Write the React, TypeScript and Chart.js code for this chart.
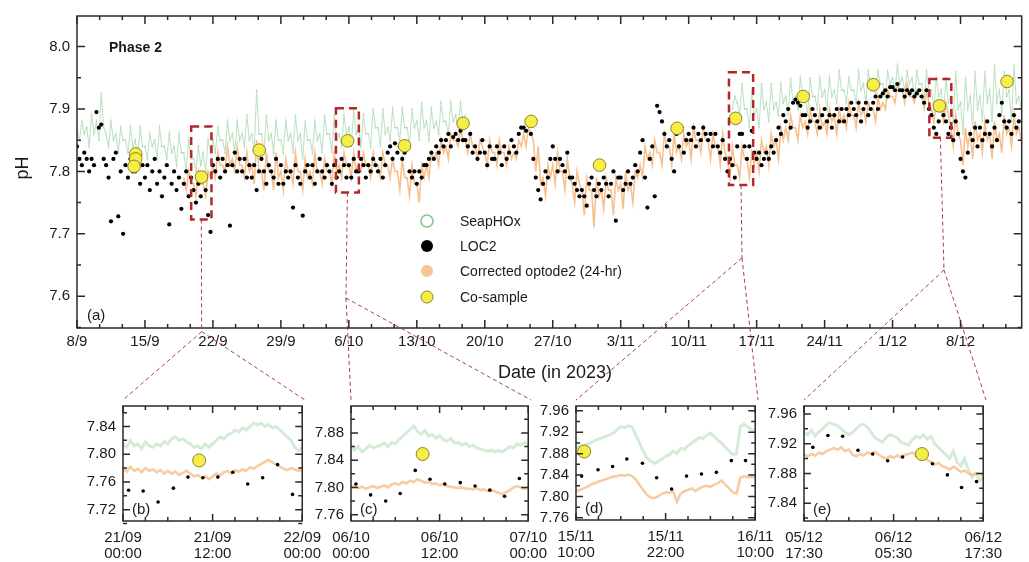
import React, { useEffect, useRef } from 'react';
import { Chart, registerables } from 'chart.js';

Chart.register(...registerables);

const FONT = "'Liberation Sans', Arial, Helvetica, sans-serif";
const TEXT = '#1a1a1a';

// ---------------- panel (a): days since 8 Sep 2023 ----------------
const xTickDays = [0, 7, 14, 21, 28, 35, 42, 49, 56, 63, 70, 77, 84, 91];
const xTickLabels = ['8/9', '15/9', '22/9', '29/9', '6/10', '13/10', '20/10', '27/10', '3/11', '10/11', '17/11', '24/11', '1/12', '8/12'];
const yTickValues = [7.6, 7.7, 7.8, 7.9, 8.0];
const sampleStepDays = 0.25;

const seaphoxAStartDay = 0;
const seaphoxA = [
  7.87, 7.85, 7.88, 7.86, 7.87, 7.84, 7.89, 7.86, 7.88, 7.85, 7.925, 7.87, 7.86, 7.84, 7.88, 7.85, 7.86, 7.83, 7.87, 7.85,
  7.85, 7.83, 7.87, 7.84, 7.85, 7.82, 7.87, 7.84, 7.84, 7.82, 7.86, 7.84, 7.85, 7.82, 7.87, 7.84, 7.84, 7.82, 7.86, 7.83,
  7.84, 7.81, 7.86, 7.83, 7.83, 7.80, 7.85, 7.82, 7.82, 7.80, 7.84, 7.81, 7.83, 7.80, 7.85, 7.83, 7.85, 7.83, 7.87, 7.85,
  7.85, 7.83, 7.88, 7.85, 7.86, 7.83, 7.88, 7.85, 7.86, 7.84, 7.89, 7.85, 7.86, 7.83, 7.93, 7.86, 7.86, 7.83, 7.89, 7.85,
  7.86, 7.83, 7.88, 7.85, 7.85, 7.83, 7.88, 7.85, 7.86, 7.83, 7.89, 7.85, 7.86, 7.82, 7.88, 7.85, 7.85, 7.83, 7.88, 7.85,
  7.86, 7.83, 7.89, 7.86, 7.86, 7.83, 7.89, 7.85, 7.86, 7.84, 7.89, 7.86, 7.87, 7.84, 7.90, 7.86, 7.87, 7.84, 7.89, 7.86,
  7.86, 7.84, 7.90, 7.87, 7.87, 7.84, 7.90, 7.86, 7.87, 7.85, 7.90, 7.87, 7.87, 7.85, 7.90, 7.87, 7.87, 7.84, 7.90, 7.87,
  7.88, 7.85, 7.91, 7.87, 7.88, 7.85, 7.90, 7.87, 7.88, 7.86, 7.91, 7.88, 7.88, 7.86, 7.91, 7.88, 7.89, 7.87, 7.91, 7.88,
  7.89,
];
const seaphoxBStartDay = 67.5;
const seaphoxB = [
  7.90, 7.92,
  7.91, 7.89, 7.94, 7.90, 7.90, 7.87, 7.93, 7.89, 7.90, 7.87, 7.94, 7.90, 7.91, 7.88, 7.94, 7.90, 7.91, 7.89, 7.94, 7.91,
  7.92, 7.89, 7.95, 7.91, 7.92, 7.90, 7.95, 7.92, 7.92, 7.89, 7.95, 7.92, 7.92, 7.90, 7.95, 7.92, 7.93, 7.90, 7.95, 7.92,
  7.93, 7.91, 7.96, 7.93, 7.93, 7.91, 7.95, 7.93, 7.93, 7.91, 7.96, 7.93, 7.94, 7.91, 7.96, 7.93, 7.94, 7.92, 7.96, 7.94,
  7.94, 7.92, 7.96, 7.94, 7.95, 7.93, 7.97, 7.94, 7.95, 7.93, 7.96, 7.94, 7.95, 7.92, 7.96, 7.94, 7.94, 7.91, 7.96, 7.93,
  7.93, 7.90, 7.95, 7.92, 7.93, 7.89, 7.95, 7.91, 7.92, 7.88, 7.96, 7.90, 7.91, 7.86, 7.95, 7.90, 7.92, 7.87, 7.96, 7.90,
  7.92, 7.88, 7.96, 7.91, 7.93, 7.88, 7.97, 7.91, 7.93, 7.89, 7.96, 7.92, 7.93, 7.88, 7.97, 7.91,
  7.92, 7.90,
];
const optodeStartDay = 11;
const optode = [
  7.79, 7.77, 7.80, 7.78, 7.78, 7.76, 7.80, 7.78, 7.78, 7.76, 7.80, 7.79, 7.81, 7.79, 7.83, 7.81, 7.81, 7.80, 7.84, 7.81,
  7.82, 7.80, 7.84, 7.81, 7.81, 7.79, 7.83, 7.80, 7.81, 7.78, 7.85, 7.80, 7.80, 7.77, 7.83, 7.80, 7.80, 7.77, 7.83, 7.79,
  7.80, 7.77, 7.82, 7.80, 7.80, 7.78, 7.83, 7.80, 7.80, 7.77, 7.82, 7.79, 7.80, 7.78, 7.83, 7.80, 7.80, 7.78, 7.82, 7.80,
  7.80, 7.78, 7.83, 7.80, 7.81, 7.79, 7.83, 7.81, 7.81, 7.79, 7.83, 7.80, 7.81, 7.80, 7.83, 7.81, 7.81, 7.79, 7.83, 7.81,
  7.81, 7.79, 7.83, 7.81, 7.81, 7.79, 7.82, 7.80, 7.80, 7.77, 7.82, 7.79, 7.79, 7.76, 7.81, 7.78, 7.78, 7.75, 7.81, 7.79,
  7.81, 7.79, 7.83, 7.82, 7.83, 7.81, 7.85, 7.83, 7.84, 7.82, 7.86, 7.85, 7.85, 7.84, 7.87, 7.85, 7.85, 7.83, 7.86, 7.84,
  7.84, 7.82, 7.85, 7.84, 7.83, 7.81, 7.85, 7.83, 7.83, 7.81, 7.85, 7.83, 7.83, 7.81, 7.84, 7.82, 7.83, 7.82, 7.85, 7.84,
  7.86, 7.84, 7.87, 7.86, 7.85, 7.80, 7.84, 7.78, 7.79, 7.76, 7.81, 7.79, 7.81, 7.78, 7.83, 7.80, 7.80, 7.77, 7.82, 7.79,
  7.78, 7.75, 7.80, 7.78, 7.77, 7.73, 7.79, 7.77, 7.77, 7.71, 7.79, 7.76, 7.77, 7.74, 7.79, 7.77, 7.77, 7.73, 7.79, 7.77,
  7.78, 7.74, 7.80, 7.77, 7.78, 7.75, 7.80, 7.79, 7.81, 7.79, 7.84, 7.82, 7.83, 7.81, 7.85, 7.83, 7.83, 7.81, 7.86, 7.84,
  7.84, 7.81, 7.86, 7.83, 7.84, 7.82, 7.86, 7.84, 7.85, 7.82, 7.87, 7.85, 7.85, 7.83, 7.87, 7.85, 7.85, 7.82, 7.86, 7.84,
  7.84, 7.81, 7.86, 7.83, 7.82, 7.79, 7.84, 7.81, 7.81, 7.79, 7.84, 7.82, 7.82, 7.79, 7.83, 7.81, 7.83, 7.80, 7.85, 7.83,
  7.84, 7.81, 7.86, 7.84, 7.85, 7.82, 7.87, 7.85, 7.87, 7.85, 7.89, 7.87, 7.87, 7.85, 7.89, 7.87, 7.88, 7.86, 7.90, 7.88,
  7.88, 7.86, 7.90, 7.87, 7.88, 7.86, 7.90, 7.88, 7.89, 7.86, 7.90, 7.88, 7.89, 7.87, 7.91, 7.89, 7.89, 7.87, 7.91, 7.89,
  7.90, 7.88, 7.91, 7.90, 7.90, 7.88, 7.92, 7.90, 7.91, 7.90, 7.93, 7.92, 7.92, 7.91, 7.94, 7.93, 7.93, 7.91, 7.94, 7.92,
  7.92, 7.91, 7.93, 7.92, 7.92, 7.90, 7.93, 7.91, 7.90, 7.88, 7.91, 7.90, 7.90, 7.88, 7.91, 7.89, 7.87, 7.84, 7.89, 7.86,
  7.85, 7.81, 7.87, 7.84, 7.86, 7.82, 7.88, 7.85, 7.86, 7.83, 7.88, 7.85, 7.86, 7.82, 7.88, 7.85, 7.86, 7.83, 7.89, 7.86,
  7.87, 7.84, 7.89, 7.86,
  7.87, 7.85,
];
const loc2StartDay = 0;
const loc2 = [
  7.84, 7.82, 7.81, 7.83, 7.82, 7.80, 7.82, 7.81, 7.895, 7.87, 7.875, 7.82, 7.81, 7.79, 7.72, 7.82, 7.83, 7.728, 7.80, 7.70,
  7.81, 7.79, 7.82, 7.80, 7.80, 7.82, 7.78, 7.81, 7.79, 7.81, 7.77, 7.80, 7.82, 7.78, 7.80, 7.76, 7.79, 7.81, 7.715, 7.78,
  7.80, 7.77, 7.79, 7.74, 7.78, 7.80, 7.76, 7.79, 7.77, 7.75, 7.78, 7.76, 7.79, 7.77, 7.73, 7.703, 7.81, 7.80, 7.82, 7.79,
  7.82, 7.80, 7.81, 7.713, 7.81, 7.83, 7.80, 7.82, 7.80, 7.82, 7.79, 7.81, 7.79, 7.81, 7.77, 7.80, 7.82, 7.80, 7.78, 7.81,
  7.80, 7.79, 7.82, 7.78, 7.81, 7.78, 7.80, 7.79, 7.80, 7.742, 7.81, 7.79, 7.78, 7.729, 7.80, 7.81, 7.79, 7.81, 7.78, 7.80,
  7.82, 7.80, 7.79, 7.81, 7.80, 7.78, 7.81, 7.79, 7.80, 7.82, 7.81, 7.79, 7.81, 7.79, 7.82, 7.80, 7.80, 7.82, 7.81, 7.79,
  7.81, 7.80, 7.82, 7.81, 7.80, 7.82, 7.79, 7.81, 7.83, 7.84, 7.82, 7.845, 7.83, 7.84, 7.82, 7.83, 7.84, 7.80, 7.79, 7.80,
  7.78, 7.80, 7.79, 7.81, 7.81, 7.82, 7.83, 7.82, 7.84, 7.83, 7.85, 7.84, 7.85, 7.86, 7.84, 7.855, 7.86, 7.85, 7.865, 7.85,
  7.85, 7.84, 7.86, 7.83, 7.84, 7.82, 7.83, 7.85, 7.83, 7.81, 7.84, 7.82, 7.82, 7.84, 7.83, 7.81, 7.84, 7.82, 7.83, 7.85,
  7.84, 7.83, 7.86, 7.87, 7.87, 7.865, 7.875, 7.86, 7.82, 7.79, 7.77, 7.755, 7.78, 7.80, 7.79, 7.82, 7.84, 7.82, 7.80, 7.82,
  7.81, 7.80, 7.83, 7.79, 7.79, 7.78, 7.77, 7.76, 7.77, 7.76, 7.745, 7.78, 7.79, 7.77, 7.76, 7.78, 7.77, 7.79, 7.78, 7.76,
  7.78, 7.80, 7.721, 7.79, 7.79, 7.77, 7.78, 7.80, 7.78, 7.79, 7.81, 7.80, 7.83, 7.85, 7.79, 7.742, 7.82, 7.84, 7.76, 7.905,
  7.895, 7.88, 7.86, 7.84, 7.85, 7.82, 7.80, 7.86, 7.84, 7.87, 7.83, 7.85, 7.86, 7.85, 7.87, 7.84, 7.86, 7.85, 7.87, 7.86,
  7.85, 7.86, 7.84, 7.86, 7.84, 7.83, 7.85, 7.82, 7.80, 7.82, 7.81, 7.79, 7.84, 7.86, 7.86, 7.84, 7.82, 7.84, 7.865, 7.83,
  7.82, 7.83, 7.81, 7.82, 7.83, 7.82, 7.84, 7.83, 7.85, 7.87, 7.86, 7.89, 7.88, 7.90, 7.87, 7.91, 7.915, 7.91, 7.905, 7.89,
  7.89, 7.87, 7.88, 7.90, 7.89, 7.88, 7.87, 7.89, 7.90, 7.88, 7.89, 7.87, 7.89, 7.90, 7.88, 7.90, 7.88, 7.90, 7.89, 7.91,
  7.90, 7.89, 7.91, 7.88, 7.90, 7.91, 7.89, 7.90, 7.91, 7.92, 7.90, 7.92, 7.925, 7.93, 7.92, 7.935, 7.935, 7.93, 7.94, 7.93,
  7.93, 7.92, 7.93, 7.925, 7.93, 7.92, 7.925, 7.93, 7.92, 7.91, 7.93, 7.90, 7.89, 7.87, 7.86, 7.88, 7.90, 7.89, 7.88, 7.86,
  7.87, 7.85, 7.88, 7.86, 7.82, 7.80, 7.79, 7.83, 7.86, 7.85, 7.87, 7.84, 7.87, 7.85, 7.86, 7.88, 7.86, 7.84, 7.87, 7.85,
  7.89, 7.91, 7.88, 7.87, 7.88, 7.86, 7.89, 7.87,
  7.88,
];
const coSampleDays = [6.05, 6.05, 5.88, 12.82, 18.77, 27.87, 33.74, 39.76, 46.77, 53.82, 61.81, 67.83, 74.8, 82.02, 88.82, 95.79];
const coSamplePH = [7.828, 7.82, 7.808, 7.791, 7.834, 7.849, 7.841, 7.877, 7.88, 7.81, 7.869, 7.885, 7.92, 7.939, 7.905, 7.944];

// zoom windows marked on panel (a): [startDay, endDay, lowPH, highPH]
const zoomWindows = [
  [11.76, 13.85, 7.723, 7.872],
  [26.67, 29.03, 7.766, 7.901],
  [67.15, 69.64, 7.778, 7.959],
  [87.79, 90.05, 7.854, 7.948],
];
const legendLabels = ['SeapHOx', 'LOC2', 'Corrected optode2 (24-hr)', 'Co-sample'];

// ---------------- zoom panels (b)-(e): hours from window start ----------------
const insetMajorHours = [0, 12, 24];
const insetMinorHours = [3, 6, 9, 15, 18, 21];
const insetStepHours = 0.5;

const bXLabels = [['21/09', '00:00'], ['21/09', '12:00'], ['22/09', '00:00']];
const bYTicks = [7.72, 7.76, 7.80, 7.84];
const bYMinor = [7.70, 7.74, 7.78, 7.82, 7.86];
const bSeaphox = [
  7.815, 7.81, 7.82, 7.812, 7.815, 7.808, 7.818, 7.812, 7.81, 7.815, 7.812, 7.818, 7.815, 7.822, 7.825, 7.82,
  7.822, 7.818, 7.815, 7.81, 7.812, 7.808, 7.815, 7.81, 7.815, 7.82, 7.825, 7.822, 7.828, 7.83, 7.835, 7.832,
  7.838, 7.835, 7.84, 7.845, 7.842, 7.845, 7.84, 7.843, 7.838, 7.84, 7.835, 7.83, 7.825, 7.82, 7.81, 7.805, 7.81,
];
const bOptode = [
  7.78, 7.775, 7.782, 7.776, 7.779, 7.774, 7.78, 7.776, 7.778, 7.774, 7.777, 7.772, 7.776, 7.772, 7.775, 7.77,
  7.773, 7.776, 7.772, 7.768, 7.77, 7.766, 7.768, 7.764, 7.768, 7.772, 7.769, 7.774, 7.776, 7.772, 7.777, 7.775,
  7.778, 7.776, 7.781, 7.779, 7.783, 7.786, 7.789, 7.792, 7.788, 7.785, 7.782, 7.779, 7.777, 7.78, 7.778, 7.776, 7.778,
];
const bLocHours = [0.74, 2.7, 4.7, 6.75, 8.7, 10.7, 12.7, 14.7, 16.7, 18.7, 20.7, 22.7];
const bLoc = [7.748, 7.747, 7.731, 7.751, 7.767, 7.766, 7.767, 7.774, 7.757, 7.766, 7.785, 7.742];
const bCoHours = [10.2];
const bCo = [7.791];

const cXLabels = [['06/10', '00:00'], ['06/10', '12:00'], ['07/10', '00:00']];
const cYTicks = [7.76, 7.80, 7.84, 7.88];
const cYMinor = [7.78, 7.82, 7.86, 7.90];
const cSeaphox = [
  7.858, 7.855, 7.86, 7.852, 7.856, 7.862, 7.858, 7.86, 7.862, 7.865, 7.86, 7.866, 7.864, 7.87, 7.875, 7.88,
  7.885, 7.89, 7.882, 7.878, 7.884, 7.875, 7.878, 7.872, 7.876, 7.87, 7.868, 7.872, 7.865, 7.866, 7.862, 7.865,
  7.86, 7.862, 7.858, 7.856, 7.855, 7.853, 7.855, 7.852, 7.854, 7.852, 7.856, 7.86, 7.858, 7.864, 7.862, 7.866, 7.864,
];
const cOptode = [
  7.80, 7.802, 7.799, 7.801, 7.798, 7.80, 7.802, 7.799, 7.801, 7.803, 7.80, 7.804, 7.806, 7.804, 7.808, 7.806,
  7.81, 7.808, 7.812, 7.81, 7.807, 7.808, 7.805, 7.806, 7.803, 7.805, 7.802, 7.801, 7.80, 7.799, 7.80, 7.798,
  7.798, 7.797, 7.799, 7.796, 7.797, 7.795, 7.796, 7.794, 7.792, 7.79, 7.793, 7.796, 7.80, 7.802, 7.80, 7.798, 7.80,
];
const cLocHours = [0.67, 2.66, 4.7, 6.66, 8.7, 10.7, 12.7, 14.8, 16.8, 18.8, 20.8, 22.8];
const cLoc = [7.805, 7.789, 7.78, 7.791, 7.825, 7.812, 7.805, 7.807, 7.802, 7.796, 7.787, 7.813];
const cCoHours = [9.7];
const cCo = [7.849];

const dXLabels = [['15/11', '10:00'], ['15/11', '22:00'], ['16/11', '10:00']];
const dYTicks = [7.76, 7.80, 7.84, 7.88, 7.92, 7.96];
const dYMinor = [7.78, 7.82, 7.86, 7.90, 7.94];
const dSeaphox = [
  7.89, 7.895, 7.893, 7.898, 7.90, 7.905, 7.907, 7.91, 7.912, 7.915, 7.918, 7.925, 7.93, 7.928, 7.932, 7.93,
  7.915, 7.90, 7.885, 7.872, 7.866, 7.862, 7.865, 7.87, 7.875, 7.878, 7.885, 7.88, 7.89, 7.888, 7.895, 7.90,
  7.905, 7.91, 7.908, 7.915, 7.918, 7.912, 7.905, 7.90, 7.892, 7.885, 7.878, 7.88, 7.93, 7.935, 7.93, 7.925, 7.922,
];
const dOptode = [
  7.81, 7.812, 7.815, 7.818, 7.822, 7.825, 7.828, 7.83, 7.832, 7.835, 7.837, 7.838, 7.84, 7.839, 7.841, 7.838,
  7.832, 7.822, 7.812, 7.803, 7.798, 7.797, 7.80, 7.805, 7.808, 7.807, 7.81, 7.79, 7.805, 7.81, 7.812, 7.815,
  7.81, 7.815, 7.818, 7.82, 7.818, 7.822, 7.825, 7.83, 7.822, 7.815, 7.808, 7.805, 7.835, 7.838, 7.836, 7.837, 7.836,
];
const dLocHours = [0.75, 2.95, 4.9, 6.8, 8.9, 10.8, 12.8, 14.8, 16.8, 18.8, 20.8, 22.7];
const dLoc = [7.838, 7.85, 7.856, 7.87, 7.862, 7.835, 7.814, 7.838, 7.842, 7.845, 7.867, 7.867];
const dCoHours = [1.1];
const dCo = [7.884];

const eXLabels = [['05/12', '17:30'], ['06/12', '05:30'], ['06/12', '17:30']];
const eYTicks = [7.84, 7.88, 7.92, 7.96];
const eYMinor = [7.82, 7.86, 7.90, 7.94];
const eSeaphox = [
  7.935, 7.932, 7.938, 7.93, 7.936, 7.94, 7.945, 7.948, 7.946, 7.944, 7.94, 7.935, 7.932, 7.935, 7.94, 7.945,
  7.946, 7.942, 7.935, 7.928, 7.925, 7.922, 7.928, 7.932, 7.93, 7.928, 7.922, 7.92, 7.918, 7.925, 7.93, 7.928,
  7.932, 7.926, 7.93, 7.92, 7.915, 7.91, 7.905, 7.90, 7.91, 7.895, 7.89, 7.90, 7.885, 7.875, 7.88, 7.87, 7.875,
];
const eOptode = [
  7.905, 7.903, 7.906, 7.904, 7.908, 7.906, 7.91, 7.912, 7.914, 7.912, 7.915, 7.91, 7.912, 7.905, 7.903, 7.906,
  7.904, 7.908, 7.906, 7.909, 7.905, 7.902, 7.90, 7.903, 7.901, 7.904, 7.902, 7.905, 7.906, 7.908, 7.905, 7.906,
  7.903, 7.898, 7.895, 7.892, 7.894, 7.89, 7.888, 7.885, 7.889, 7.886, 7.882, 7.884, 7.88, 7.878, 7.88, 7.879, 7.878,
];
const eLocHours = [1.19, 3.2, 5.17, 7.23, 9.2, 11.2, 13.2, 15.2, 17.2, 19.2, 21.1, 23.1];
const eLoc = [7.915, 7.931, 7.93, 7.911, 7.906, 7.897, 7.902, 7.903, 7.893, 7.878, 7.861, 7.869];
const eCoHours = [15.8];
const eCo = [7.906];

// ---------------- layout (pixels) ----------------
const MAIN = { left: 77, right: 1026, top: 13, bottom: 328 };
const insetBoxes = [
  { left: 123, right: 305, top: 400, bottom: 521, yMin: 7.7036, yMax: 7.8696, tag: '(b)' },
  { left: 351, right: 531, top: 400, bottom: 521, yMin: 7.7507, yMax: 7.9195, tag: '(c)' },
  { left: 576, right: 758, top: 400, bottom: 520, yMin: 7.756, yMax: 7.969, tag: '(d)' },
  { left: 804, right: 986, top: 400, bottom: 521, yMin: 7.816, yMax: 7.9706, tag: '(e)' },
];
const connectorKnees = [[201.7, 331.7], [346, 298], [742, 258], [944, 270]];
const INSET_YAXIS_W = 62;
const INSET_RIGHT_PAD = 24;
const INSET_TOP = 390;

const COL_GREEN = 'rgba(150, 208, 158, 0.6)';
const COL_ORANGE = 'rgba(244, 182, 122, 0.85)';
const COL_YELLOW = '#f6ee48';
const COL_YELLOW_EDGE = 'rgba(130, 120, 20, 0.9)';
const COL_RED = '#b3262a';

const series = (start: number, step: number, vals: number[]) => vals.map((v, i) => ({ x: start + i * step, y: v }));
const pairs = (xs: number[], ys: number[]) => xs.map((x, i) => ({ x, y: ys[i] }));

function framePlugin(f: { xMajor: number[]; xMinor: number[]; yMajor: number[]; yMinor: number[]; major: number; minor: number; lw: number }, extra?: (chart: any) => void) {
  return {
    id: 'frameTicks',
    afterDraw(chart: any) {
      const { ctx, chartArea: a, scales } = chart;
      const sx = scales.x;
      const sy = scales.y;
      ctx.save();
      ctx.strokeStyle = '#2a2a2a';
      ctx.lineWidth = f.lw;
      ctx.setLineDash([]);
      ctx.beginPath();
      const vt = (v: number, len: number) => {
        const p = sx.getPixelForValue(v);
        ctx.moveTo(p, a.bottom); ctx.lineTo(p, a.bottom - len);
        ctx.moveTo(p, a.top); ctx.lineTo(p, a.top + len);
      };
      const ht = (v: number, len: number) => {
        const p = sy.getPixelForValue(v);
        ctx.moveTo(a.left, p); ctx.lineTo(a.left + len, p);
        ctx.moveTo(a.right, p); ctx.lineTo(a.right - len, p);
      };
      f.xMajor.forEach((v) => vt(v, f.major));
      f.xMinor.forEach((v) => vt(v, f.minor));
      f.yMajor.forEach((v) => ht(v, f.major));
      f.yMinor.forEach((v) => ht(v, f.minor));
      ctx.stroke();
      ctx.strokeRect(a.left, a.top, a.right - a.left, a.bottom - a.top);
      ctx.restore();
      if (extra) extra(chart);
    },
  };
}

function drawMainExtras(chart: any) {
  const { ctx, scales } = chart;
  const sx = scales.x;
  const sy = scales.y;
  ctx.save();
  // zoom windows
  ctx.strokeStyle = COL_RED;
  ctx.lineWidth = 2.5;
  ctx.setLineDash([8, 5]);
  zoomWindows.forEach(([d0, d1, p0, p1]) => {
    const l = sx.getPixelForValue(d0);
    const r = sx.getPixelForValue(d1);
    const t = sy.getPixelForValue(p1);
    const b = sy.getPixelForValue(p0);
    ctx.strokeRect(l, t, r - l, b - t);
  });
  // connectors to zoom panels
  ctx.strokeStyle = 'rgba(165, 45, 45, 0.9)';
  ctx.lineWidth = 1;
  ctx.setLineDash([4, 3]);
  zoomWindows.forEach((w, i) => {
    const cx = sx.getPixelForValue((w[0] + w[1]) / 2);
    const by = sy.getPixelForValue(w[2]);
    const [kx, ky] = connectorKnees[i];
    const box = insetBoxes[i];
    ctx.beginPath();
    ctx.moveTo(cx, by); ctx.lineTo(kx, ky);
    ctx.moveTo(kx, ky); ctx.lineTo(box.left, box.top);
    ctx.moveTo(kx, ky); ctx.lineTo(box.right, box.top);
    ctx.stroke();
  });
  ctx.setLineDash([]);
  // texts
  ctx.fillStyle = TEXT;
  ctx.textBaseline = 'middle';
  ctx.textAlign = 'left';
  ctx.font = `bold 14px ${FONT}`;
  ctx.fillText('Phase 2', 109, 48);
  ctx.font = `15px ${FONT}`;
  ctx.fillText('(a)', 87, 316);
  ctx.font = `18px ${FONT}`;
  ctx.textAlign = 'center';
  ctx.fillText('Date (in 2023)', 555, 373);
  ctx.save();
  ctx.translate(23, 168);
  ctx.rotate(-Math.PI / 2);
  ctx.fillText('pH', 0, 0);
  ctx.restore();
  // legend
  const lx = 427;
  const rows = [221, 246, 271, 297];
  ctx.font = `14px ${FONT}`;
  ctx.textAlign = 'left';
  legendLabels.forEach((lab, i) => {
    const y = rows[i];
    ctx.beginPath();
    ctx.arc(lx, y, 6, 0, Math.PI * 2);
    if (i === 0) {
      ctx.strokeStyle = 'rgb(130, 200, 135)';
      ctx.lineWidth = 1.6;
      ctx.stroke();
    } else if (i === 1) {
      ctx.fillStyle = '#000';
      ctx.fill();
    } else if (i === 2) {
      ctx.fillStyle = 'rgb(247, 196, 148)';
      ctx.fill();
    } else {
      ctx.fillStyle = COL_YELLOW;
      ctx.fill();
      ctx.strokeStyle = COL_YELLOW_EDGE;
      ctx.lineWidth = 1;
      ctx.stroke();
    }
    ctx.fillStyle = TEXT;
    ctx.fillText(lab, 460, y + 1);
  });
  ctx.restore();
}

function mainConfig(): any {
  const xMinor: number[] = [];
  for (let w = 0; w < 14; w++) { xMinor.push(w * 7 + 7 / 3, w * 7 + 14 / 3); }
  return {
    type: 'scatter',
    data: {
      datasets: [
        { label: 'Co-sample', data: pairs(coSampleDays, coSamplePH), pointRadius: 6.3, pointBackgroundColor: COL_YELLOW, pointBorderColor: COL_YELLOW_EDGE, pointBorderWidth: 1 },
        { label: 'LOC2', data: series(loc2StartDay, sampleStepDays, loc2), pointRadius: 2.1, pointBackgroundColor: '#000', pointBorderWidth: 0 },
        { label: 'Corrected optode2 (24-hr)', data: series(optodeStartDay, sampleStepDays, optode), showLine: true, borderColor: COL_ORANGE, borderWidth: 1.6, pointRadius: 0, tension: 0 },
        { label: 'SeapHOx', data: series(seaphoxAStartDay, sampleStepDays, seaphoxA), showLine: true, borderColor: COL_GREEN, borderWidth: 1.1, pointRadius: 0.9, pointBackgroundColor: COL_GREEN, pointBorderWidth: 0 },
        { label: 'SeapHOx ', data: series(seaphoxBStartDay, sampleStepDays, seaphoxB), showLine: true, borderColor: COL_GREEN, borderWidth: 1.1, pointRadius: 0.9, pointBackgroundColor: COL_GREEN, pointBorderWidth: 0 },
      ],
    },
    options: {
      responsive: false,
      animation: false,
      devicePixelRatio: 1,
      layout: { padding: { left: 0, top: MAIN.top, right: 1029 - MAIN.right, bottom: 0 } },
      plugins: { legend: { display: false }, tooltip: { enabled: false } },
      scales: {
        x: {
          type: 'linear', min: 0, max: 97.3,
          grid: { display: false, drawTicks: false }, border: { display: false },
          afterBuildTicks: (s: any) => { s.ticks = xTickDays.map((v) => ({ value: v })); },
          afterFit: (s: any) => { s.height = 562 - MAIN.bottom; },
          ticks: { autoSkip: false, maxRotation: 0, padding: 5, color: TEXT, font: { size: 15, family: FONT }, callback: (_v: any, i: number) => xTickLabels[i] },
        },
        y: {
          min: 7.549, max: 8.049,
          grid: { display: false, drawTicks: false }, border: { display: false },
          afterBuildTicks: (s: any) => { s.ticks = yTickValues.map((v) => ({ value: v })); },
          afterFit: (s: any) => { s.width = MAIN.left; },
          ticks: { padding: 7, color: TEXT, font: { size: 15, family: FONT }, callback: (v: any) => Number(v).toFixed(1) },
        },
      },
    },
    plugins: [framePlugin({ xMajor: xTickDays, xMinor, yMajor: yTickValues, yMinor: [7.55, 7.65, 7.75, 7.85, 7.95], major: 8, minor: 4, lw: 1.5 }, drawMainExtras)],
  };
}

const insetData = [
  { xLabels: bXLabels, yTicks: bYTicks, yMinor: bYMinor, seaphox: bSeaphox, optode: bOptode, locH: bLocHours, loc: bLoc, coH: bCoHours, co: bCo },
  { xLabels: cXLabels, yTicks: cYTicks, yMinor: cYMinor, seaphox: cSeaphox, optode: cOptode, locH: cLocHours, loc: cLoc, coH: cCoHours, co: cCo },
  { xLabels: dXLabels, yTicks: dYTicks, yMinor: dYMinor, seaphox: dSeaphox, optode: dOptode, locH: dLocHours, loc: dLoc, coH: dCoHours, co: dCo },
  { xLabels: eXLabels, yTicks: eYTicks, yMinor: eYMinor, seaphox: eSeaphox, optode: eOptode, locH: eLocHours, loc: eLoc, coH: eCoHours, co: eCo },
];

function insetConfig(i: number): any {
  const d = insetData[i];
  const box = insetBoxes[i];
  return {
    type: 'scatter',
    data: {
      datasets: [
        { label: 'Co-sample', data: pairs(d.coH, d.co), pointRadius: 6.5, pointBackgroundColor: COL_YELLOW, pointBorderColor: COL_YELLOW_EDGE, pointBorderWidth: 1 },
        { label: 'LOC2', data: pairs(d.locH, d.loc), pointRadius: 1.8, pointBackgroundColor: '#000', pointBorderWidth: 0 },
        { label: 'Corrected optode2', data: series(0, insetStepHours, d.optode), showLine: true, borderColor: 'rgba(244, 182, 122, 0.7)', borderWidth: 2.6, pointRadius: 0 },
        { label: 'SeapHOx', data: series(0, insetStepHours, d.seaphox), showLine: true, borderColor: 'rgba(160, 212, 166, 0.45)', borderWidth: 3, pointRadius: 0 },
      ],
    },
    options: {
      responsive: false,
      animation: false,
      devicePixelRatio: 1,
      layout: { padding: { left: 0, top: box.top - INSET_TOP, right: INSET_RIGHT_PAD, bottom: 0 } },
      plugins: { legend: { display: false }, tooltip: { enabled: false } },
      scales: {
        x: {
          type: 'linear', min: 0, max: 24,
          grid: { display: false, drawTicks: false }, border: { display: false },
          afterBuildTicks: (s: any) => { s.ticks = insetMajorHours.map((v) => ({ value: v })); },
          afterFit: (s: any) => { s.height = 562 - box.bottom; },
          ticks: { autoSkip: false, maxRotation: 0, padding: 8, color: TEXT, font: { size: 15, family: FONT, lineHeight: 1.12 }, callback: (_v: any, k: number) => d.xLabels[k] },
        },
        y: {
          min: box.yMin, max: box.yMax,
          grid: { display: false, drawTicks: false }, border: { display: false },
          afterBuildTicks: (s: any) => { s.ticks = d.yTicks.map((v) => ({ value: v })); },
          afterFit: (s: any) => { s.width = INSET_YAXIS_W; },
          ticks: { padding: 7, color: TEXT, font: { size: 15, family: FONT }, callback: (v: any) => Number(v).toFixed(2) },
        },
      },
    },
    plugins: [framePlugin({ xMajor: insetMajorHours, xMinor: insetMinorHours, yMajor: d.yTicks, yMinor: d.yMinor, major: 7, minor: 4, lw: 1.5 }, (chart: any) => {
      const { ctx, chartArea: a } = chart;
      ctx.save();
      ctx.fillStyle = TEXT;
      ctx.font = `15px ${FONT}`;
      ctx.textAlign = 'left';
      ctx.textBaseline = 'middle';
      ctx.fillText(box.tag, a.left + 9, a.bottom - 11);
      ctx.restore();
    })],
  };
}

export default function App() {
  const mainRef = useRef<HTMLCanvasElement>(null);
  const r0 = useRef<HTMLCanvasElement>(null);
  const r1 = useRef<HTMLCanvasElement>(null);
  const r2 = useRef<HTMLCanvasElement>(null);
  const r3 = useRef<HTMLCanvasElement>(null);
  const insetRefs = [r0, r1, r2, r3];

  useEffect(() => {
    Chart.defaults.font.family = FONT;
    const charts: Chart[] = [];
    if (mainRef.current) charts.push(new Chart(mainRef.current, mainConfig()));
    insetRefs.forEach((r, i) => {
      if (r.current) charts.push(new Chart(r.current, insetConfig(i)));
    });
    return () => charts.forEach((c) => c.destroy());
  }, []);

  return (
    <div style={{ position: 'absolute', left: 0, top: 0, width: 1029, height: 562, background: '#fff', overflow: 'hidden' }}>
      <canvas ref={mainRef} width={1029} height={562} style={{ position: 'absolute', left: 0, top: 0 }} />
      {insetBoxes.map((b, i) => (
        <canvas
          key={i}
          ref={insetRefs[i]}
          width={b.right - b.left + INSET_YAXIS_W + INSET_RIGHT_PAD}
          height={562 - INSET_TOP}
          style={{ position: 'absolute', left: b.left - INSET_YAXIS_W, top: INSET_TOP }}
        />
      ))}
    </div>
  );
}
